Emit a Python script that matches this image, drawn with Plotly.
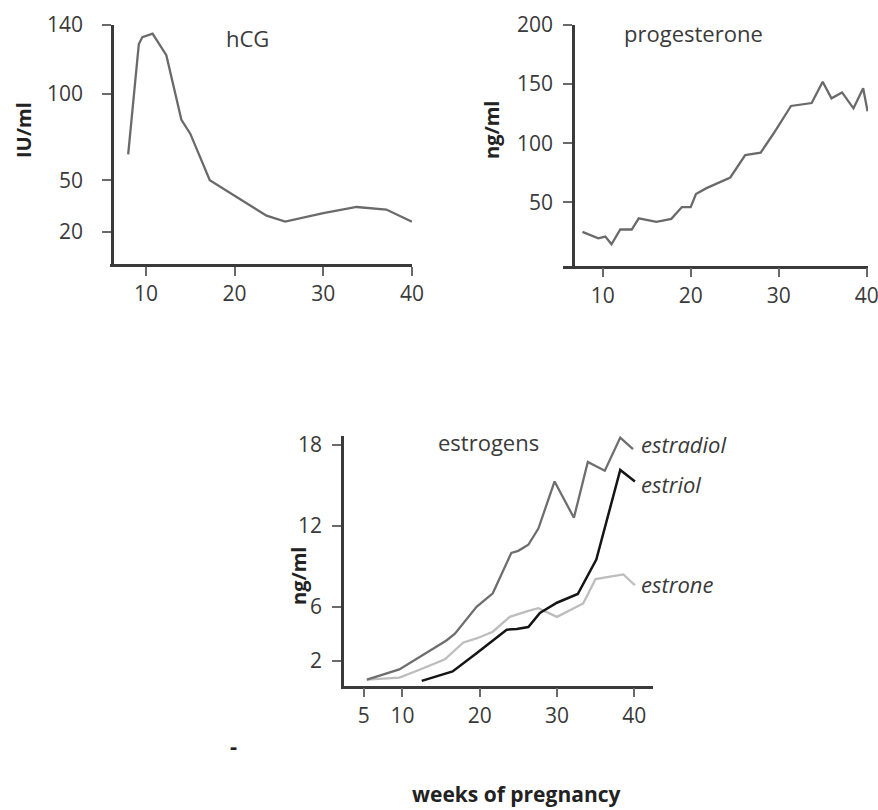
import plotly.graph_objects as go

# ---------------- data ----------------
hcg_weeks = [8.0, 9.2, 9.6, 10.75, 12.3, 14.0, 15.0, 17.2, 23.6, 25.7, 30.0, 33.75, 37.1, 40.0]
hcg_vals = [65, 129, 133, 135, 122.5, 85, 77, 50, 29.5, 26, 31, 34.5, 33, 26]

prog_weeks = [7.7, 9.5, 10.3, 11.0, 12.0, 13.3, 14.1, 16.1, 17.8, 19.0, 20.0, 20.6, 21.8,
              24.5, 26.2, 27.95, 29.4, 31.4, 33.75, 35.0, 36.0, 37.2, 38.5, 39.6, 40.1]
prog_vals = [25, 19.5, 21, 14.5, 27, 27, 36.5, 33.5, 36, 46, 46, 57, 62,
             71, 90, 92, 108, 131.5, 134, 152, 138, 143, 129.5, 146.5, 127]

estradiol_weeks = [5.4, 9.6, 15.7, 16.8, 19.6, 21.7, 24.1, 25.0, 26.3, 27.6, 29.7, 32.2, 34.0, 36.2, 38.2, 39.85]
estradiol_vals = [0.6, 1.35, 3.5, 4.0, 6.0, 7.0, 10.0, 10.15, 10.6, 11.8, 15.3, 12.6, 16.75, 16.1, 18.55, 17.7]

estriol_weeks = [12.5, 16.5, 19.6, 23.5, 24.8, 26.3, 27.8, 30.0, 32.7, 35.1, 38.2, 40.1]
estriol_vals = [0.5, 1.2, 2.55, 4.3, 4.35, 4.5, 5.55, 6.3, 6.95, 9.5, 16.15, 15.3]

estrone_weeks = [5.4, 9.6, 12.3, 15.5, 17.9, 19.6, 21.7, 23.9, 26.3, 27.6, 30.0, 33.4, 35.0, 38.6, 40.1]
estrone_vals = [0.6, 0.75, 1.35, 2.1, 3.35, 3.65, 4.15, 5.25, 5.7, 5.9, 5.25, 6.25, 8.05, 8.4, 7.6]

hcg_ticks = [20, 50, 100, 140]
prog_ticks = [50, 100, 150, 200]
estr_ticks = [2, 6, 12, 18]
week_ticks_top = [10, 20, 30, 40]
week_ticks_bottom = [5, 10, 20, 30, 40]

# ---------------- styling ----------------
W, H = 878, 810
FONT = "Open Sans"
AX = "#3a3a3a"
TXT = "#3a3a3a"


def px(x):
    return x / W


def py(y):
    return 1 - y / H


def axis_style(**kw):
    d = dict(showline=True, linecolor=AX, linewidth=2.5, ticks="outside", ticklen=9,
             tickwidth=1.6, tickcolor="#6a6a6a", showgrid=False, zeroline=False,
             automargin=False, ticklabeloverflow="allow",
             tickfont=dict(family=FONT, size=21, color=TXT), fixedrange=True)
    d.update(kw)
    return d


fig = go.Figure()
fig.add_trace(go.Scatter(x=hcg_weeks, y=hcg_vals, mode="lines", xaxis="x", yaxis="y",
                         line=dict(color="#6a6a6a", width=2.3), showlegend=False))
fig.add_trace(go.Scatter(x=prog_weeks, y=prog_vals, mode="lines", xaxis="x2", yaxis="y2",
                         line=dict(color="#6a6a6a", width=2.3), showlegend=False))
fig.add_trace(go.Scatter(x=estrone_weeks, y=estrone_vals, mode="lines", xaxis="x3", yaxis="y3",
                         line=dict(color="#bdbdbd", width=2.3), showlegend=False))
fig.add_trace(go.Scatter(x=estradiol_weeks, y=estradiol_vals, mode="lines", xaxis="x3", yaxis="y3",
                         line=dict(color="#6e6e6e", width=2.3), showlegend=False))
fig.add_trace(go.Scatter(x=estriol_weeks, y=estriol_vals, mode="lines", xaxis="x3", yaxis="y3",
                         line=dict(color="#151515", width=2.5), showlegend=False))

fig.update_layout(
    width=W, height=H, margin=dict(l=0, r=0, t=0, b=0, autoexpand=False),
    paper_bgcolor="white", plot_bgcolor="white",
    xaxis=axis_style(domain=[px(110), px(412)], range=[5.95, 40.0], anchor="y",
                     tickvals=week_ticks_top),
    yaxis=axis_style(domain=[py(264), py(25)], range=[1.45, 140], anchor="free",
                     position=px(112), tickvals=hcg_ticks, ticklabelstandoff=15),
    xaxis2=axis_style(domain=[px(563), px(868)], range=[5.49, 40.15], anchor="y2",
                      tickvals=week_ticks_top),
    yaxis2=axis_style(domain=[py(265.7), py(25)], range=[-3.6, 200], anchor="free",
                      position=px(573), tickvals=prog_ticks, ticklabelstandoff=6),
    xaxis3=axis_style(domain=[px(344), px(652.7)], range=[2.44, 42.4], anchor="y3",
                      tickvals=week_ticks_bottom),
    yaxis3=axis_style(domain=[py(685.7), py(435.6)], range=[0.145, 18.7], anchor="x3",
                      tickvals=estr_ticks, ticklabelstandoff=6),
)

ann = []


def text(x, y, s, size=22, bold=False, italic=False, angle=0, xanchor="center", color=TXT,
         xref="paper", yref="paper"):
    t = s
    if bold:
        t = "<b>" + t + "</b>"
    if italic:
        t = "<i>" + t + "</i>"
    ann.append(dict(x=x, y=y, xref=xref, yref=yref, text=t, showarrow=False,
                    xanchor=xanchor, yanchor="middle", textangle=angle,
                    font=dict(family=FONT, size=size, color=color)))


text(px(247), py(38), "hCG")
text(px(693), py(33), "progesterone")
text(px(488), py(442), "estrogens")
text(px(23), py(130), "IU/ml", bold=True, angle=-90, color="#222", size=20)
text(px(491), py(130), "ng/ml", bold=True, angle=-90, color="#222", size=20)
text(px(298), py(576), "ng/ml", bold=True, angle=-90, color="#222", size=20)
text(px(516), py(794), "weeks of pregnancy", bold=True, color="#222", size=21)
text(px(233), py(745), "-", bold=True, color="#222")
text(40.6, 18.05, "estradiol", italic=True, xanchor="left", xref="x3", yref="y3")
text(40.6, 15.1, "estriol", italic=True, xanchor="left", xref="x3", yref="y3")
text(40.6, 7.7, "estrone", italic=True, xanchor="left", xref="x3", yref="y3")

fig.update_layout(annotations=ann)
fig.write_html("out.html")
